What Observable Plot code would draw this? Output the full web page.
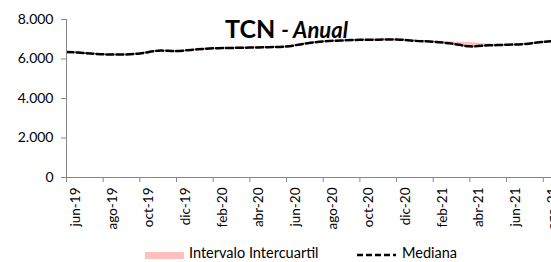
<!DOCTYPE html>
<html><head><meta charset="utf-8">
<script src="https://cdn.jsdelivr.net/npm/d3@7"></script>
<script src="https://cdn.jsdelivr.net/npm/@observablehq/plot@0.6"></script>
<style>
html,body{margin:0;padding:0;background:#fff;overflow:hidden;width:551px;height:262px}
#wrap{position:relative;width:551px;height:262px;font-family:Lato,sans-serif;color:#000;overflow:hidden}
#title{position:absolute;left:225px;top:16px;font-weight:bold;font-size:25px;line-height:25px;white-space:nowrap}
#title i{font-size:22px}
.lg{position:absolute;font-size:14.5px;line-height:12px;white-space:nowrap}
</style></head><body>
<div id="wrap"><div id="chart"></div>
<div id="title">TCN <i>- Anual</i></div>
<div id="legend"></div>
</div>
<script>
const months = ["jun-19","jul-19","ago-19","sep-19","oct-19","nov-19","dic-19","ene-20","feb-20","mar-20","abr-20","may-20","jun-20","jul-20","ago-20","sep-20","oct-20","nov-20","dic-20","ene-21","feb-21","mar-21","abr-21","may-21","jun-21","jul-21","ago-21","sep-21"];
const median = [6360,6300,6240,6225,6280,6420,6400,6480,6540,6560,6580,6600,6630,6780,6890,6940,6970,6980,6990,6920,6870,6780,6640,6690,6720,6760,6870,6950];
const q1 =     [6330,6260,6200,6200,6260,6400,6380,6460,6520,6540,6560,6580,6610,6760,6870,6920,6950,6960,6970,6900,6850,6760,6640,6670,6700,6740,6850,6930];
const q3 =     [6390,6330,6260,6250,6310,6450,6430,6510,6570,6590,6610,6630,6660,6810,6910,6960,6990,7000,7010,6960,6910,6860,6830,6760,6750,6780,6890,6970];
const xTickLabels = ["jun-19","ago-19","oct-19","dic-19","feb-20","abr-20","jun-20","ago-20","oct-20","dic-20","feb-21","abr-21","jun-21","ago-21"];
const yTicks = [0,2000,4000,6000,8000];
const yTickLabels = ["0","2.000","4.000","6.000","8.000"];
const seriesNames = ["Intervalo Intercuartil","Mediana"];

const data = months.map((m,i)=>({i, m, med: median[i], lo: q1[i], hi: q3[i]}));
const xTicks = xTickLabels.map(l => months.indexOf(l));
const axisColor = "#868686";

const plot = Plot.plot({
  width: 551, height: 240,
  marginLeft: 66, marginRight: 0, marginTop: 19, marginBottom: 63,
  style: {fontFamily: "Lato, sans-serif", fontSize: "14px", color: "#000", background: "#fff", overflow: "visible"},
  x: {type: "linear", domain: [0, 26.45]},
  y: {domain: [0, 8000]},
  marks: [
    Plot.areaY(data, {x: "i", y1: "lo", y2: "hi", fill: "#ffbfbf", curve: "catmull-rom", clip: true}),
    Plot.lineY(data, {x: "i", y: "med", stroke: "#000", strokeWidth: 2.5, strokeDasharray: "7,3", curve: "catmull-rom", clip: true}),
    Plot.ruleX([0], {y1: 0, y2: 8000, stroke: axisColor}),
    Plot.ruleY([0], {stroke: axisColor}),
    Plot.axisY({ticks: yTicks, tickFormat: v => yTickLabels[yTicks.indexOf(v)], tickSize: 5, tickPadding: 8, stroke: axisColor, fill: "#000", fontSize: 14, label: null}),
    Plot.axisX({ticks: xTicks, tickFormat: () => "", tickSize: 5, stroke: axisColor, label: null}),
    Plot.axisX({ticks: xTicks, tickFormat: i => months[i], tickSize: 0, tickPadding: 10, tickRotate: -90, dx: 9, fill: "#000", fontSize: 13.5, label: null})
  ]
});
document.getElementById("chart").appendChild(plot);

const lg = document.getElementById("legend");
lg.innerHTML = `
<div style="position:absolute;left:145px;top:252px;width:39px;height:7px;background:#ffbfbf"></div>
<div class="lg" style="left:189px;top:247px">${seriesNames[0]}</div>
<svg style="position:absolute;left:356px;top:251px" width="42" height="8"><line x1="1" y1="4" x2="34" y2="4" stroke="#000" stroke-width="2.5" stroke-dasharray="6,3"/><line x1="37" y1="4" x2="40" y2="4" stroke="#000" stroke-width="2.5"/></svg>
<div class="lg" style="left:402px;top:247px">${seriesNames[1]}</div>`;
</script>
</body></html>
